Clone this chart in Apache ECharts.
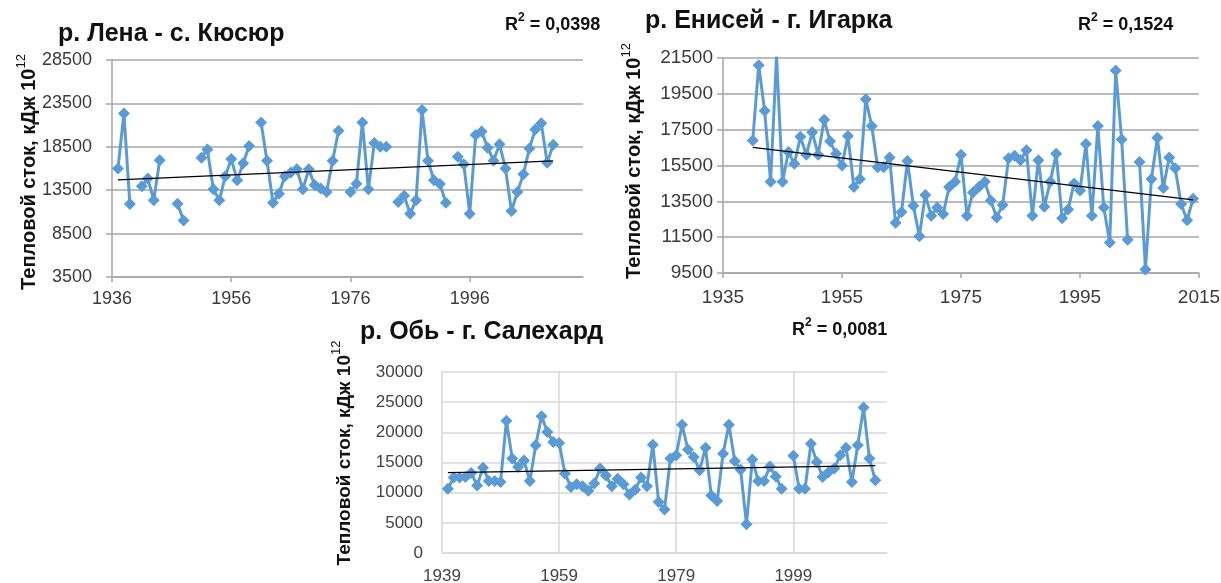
<!DOCTYPE html>
<html><head><meta charset="utf-8">
<script src="https://cdn.jsdelivr.net/npm/echarts@6/dist/echarts.min.js"></script>
<style>html,body{margin:0;padding:0;background:#fff}#c{width:1221px;height:583px}</style>
</head><body><div id="c"></div>
<script>
// ---- Data ----
const lenaYears = [];
for (let y = 1937; y <= 2010; y++) lenaYears.push(y);
const lenaValues = [16000,22350,11900,null,13950,14850,12350,16950,null,null,11950,10000,null,null,17250,18200,13600,12350,15100,17100,14650,16600,18600,null,21300,16900,12050,13100,15100,15550,15900,13600,15900,14100,13700,13300,16900,20350,null,13300,14250,21300,13600,18950,18500,18500,null,12150,12850,10800,12350,22750,16900,14650,14200,12050,null,17350,16500,10800,19850,20250,18400,16900,18800,16000,11100,13300,15350,18300,20500,21200,16650,18750];
const lenaTrendYears = [1937, 2010];
const lenaTrendValues = [14690, 16880];

const yenYears = [];
for (let y = 1940; y <= 2014; y++) yenYears.push(y);
const yenValues = [16900,21100,18550,14600,21600,14600,16250,15600,17100,16100,17350,16100,18050,16850,16150,15500,17150,14300,14750,19200,17700,15400,15400,15950,12300,12900,15750,13250,11550,13850,12700,13150,12800,14300,14600,16100,12700,14000,14300,14600,13550,12600,13300,15900,16050,15800,16350,12700,15800,13200,14600,16150,12550,13050,14500,14100,16700,12700,17700,13150,11200,20800,16950,11350,null,15700,9700,14750,17050,14250,15950,15350,13350,12450,13650];
const yenTrendYears = [1940, 2014];
const yenTrendValues = [16510, 13580];

const obYears = [];
for (let y = 1940; y <= 2013; y++) obYears.push(y);
const obValues = [10650,12500,12500,12600,13250,11200,14150,11950,11950,11750,21900,15650,14250,15350,11950,17850,22650,20050,18400,18250,13150,10950,11400,11050,10300,11500,14000,12850,11050,12300,11400,9700,10500,12500,11050,17950,8450,7200,15650,16200,21250,17150,15900,13700,17450,9550,8600,16450,21250,15250,13800,4750,15500,11950,11950,14350,12700,10650,null,16100,10650,10650,18100,15100,12600,13400,14000,16200,17450,11750,17850,24100,15650,12050];
const obTrendYears = [1940, 2013];
const obTrendValues = [13315, 14476];

const titles = ['р. Лена - с. Кюсюр', 'р. Енисей - г. Игарка', 'р. Обь - г. Салехард'];
const r2Labels = ['0,0398', '0,1524', '0,0081'];
const yAxisTitle = 'Тепловой сток, кДж 10';

// ---- Helpers ----
function pairs(xs, ys) { return xs.map((x, i) => [x, ys[i] == null ? '-' : ys[i]]); }

const BLUE = '#5B9BD5';
function dataSeries(idx, xs, ys) {
  return {
    type: 'line', xAxisIndex: idx, yAxisIndex: idx, data: pairs(xs, ys),
    connectNulls: false, symbol: 'diamond', symbolSize: 12, showSymbol: true,
    lineStyle: { color: BLUE, width: 3 }, itemStyle: { color: BLUE },
    animation: false, z: 3
  };
}
function trendSeries(idx, xs, ys) {
  return {
    type: 'line', xAxisIndex: idx, yAxisIndex: idx, data: pairs(xs, ys),
    symbol: 'none', lineStyle: { color: '#000', width: 1.2 }, animation: false, z: 4
  };
}
const topAxisColor = '#a6a6a6';
function topX(idx, min, max, showMax, fs, margin) {
  return {
    type: 'value', gridIndex: idx, min: min, max: max, interval: 20,
    axisLine: { show: true, lineStyle: { color: topAxisColor, width: 1.5 } },
    axisTick: { show: true, length: 5, lineStyle: { color: topAxisColor, width: 1.5 } },
    splitLine: { show: false },
    axisLabel: { color: '#3b3b3b', fontSize: fs, fontFamily: 'Liberation Sans', margin: margin, showMaxLabel: showMax, formatter: v => String(v) }
  };
}
function topY(idx, min, max, interval, fs, margin) {
  return {
    type: 'value', gridIndex: idx, min: min, max: max, interval: interval,
    axisLine: { show: true, lineStyle: { color: topAxisColor, width: 1.5 } },
    axisTick: { show: true, length: 6, lineStyle: { color: topAxisColor, width: 1.5 } },
    splitLine: { show: true, lineStyle: { color: topAxisColor, width: 1.5 } },
    axisLabel: { color: '#3b3b3b', fontSize: fs, fontFamily: 'Liberation Sans', margin: margin, formatter: v => String(v) }
  };
}

function textEl(x, y, txt, size, align) {
  return { type: 'text', x: x, y: y, z: 10, style: { text: txt, fill: '#111', font: 'bold ' + size + 'px "Liberation Sans"', align: align || 'left', verticalAlign: 'middle' } };
}
function r2El(x, y, val) {
  return { type: 'text', x: x, y: y, z: 10, style: {
    text: '{a|R}{s|2}{a| = ' + val + '}', align: 'left', verticalAlign: 'middle',
    rich: { a: { fontSize: 18, fontWeight: 'bold', fontFamily: 'Liberation Sans', fill: '#111', color: '#111', lineHeight: 22, verticalAlign: 'bottom' },
            s: { fontSize: 12, fontWeight: 'bold', fontFamily: 'Liberation Sans', fill: '#111', color: '#111', lineHeight: 22, verticalAlign: 'top' } } } };
}
function yTitleEl(x, y, size) {
  return { type: 'text', x: x, y: y, rotation: Math.PI / 2, z: 10, style: {
    text: '{a|' + yAxisTitle + '}{s|12}', align: 'center', verticalAlign: 'middle',
    rich: { a: { fontSize: size, fontWeight: 'bold', fontFamily: 'Liberation Sans', fill: '#111', color: '#111', lineHeight: 24, verticalAlign: 'bottom' },
            s: { fontSize: 13, fontFamily: 'Liberation Sans', fill: '#111', color: '#111', lineHeight: 24, verticalAlign: 'top' } } } };
}

const obGridColor = '#d9d9d9';
const option = {
  animation: false,
  grid: [
    { left: 112, top: 60, width: 471, height: 217, outerBoundsMode: 'none', containLabel: false },
    { left: 723, top: 58, width: 476, height: 215, outerBoundsMode: 'none', containLabel: false },
    { left: 442, top: 372, width: 445, height: 181, outerBoundsMode: 'none', containLabel: false }
  ],
  xAxis: [
    topX(0, 1936, 2015, false, 18, 13),
    topX(1, 1935, 2015, true, 19, 15),
    { type: 'value', gridIndex: 2, min: 1939, max: 2015, interval: 20,
      axisLine: { show: true, lineStyle: { color: obGridColor, width: 1.5 } },
      axisTick: { show: false },
      splitLine: { show: true, showMaxLine: false, lineStyle: { color: obGridColor, width: 1.5 } },
      axisLabel: { color: '#444', fontSize: 17, fontFamily: 'Liberation Sans', margin: 15, showMaxLabel: false, formatter: v => String(v) } }
  ],
  yAxis: [
    topY(0, 3500, 28500, 5000, 18, 20),
    topY(1, 9500, 21500, 2000, 19, 10),
    { type: 'value', gridIndex: 2, min: 0, max: 30000, interval: 5000,
      axisLine: { show: false }, axisTick: { show: false },
      splitLine: { show: true, lineStyle: { color: obGridColor, width: 1.5 } },
      axisLabel: { color: '#444', fontSize: 17, fontFamily: 'Liberation Sans', margin: 19, formatter: v => String(v) } }
  ],
  series: [
    dataSeries(0, lenaYears, lenaValues), trendSeries(0, lenaTrendYears, lenaTrendValues),
    dataSeries(1, yenYears, yenValues), trendSeries(1, yenTrendYears, yenTrendValues),
    dataSeries(2, obYears, obValues), trendSeries(2, obTrendYears, obTrendValues)
  ],
  graphic: [
    textEl(58, 34, titles[0], 25),
    textEl(645, 21, titles[1], 25),
    textEl(360, 332, titles[2], 25),
    r2El(505, 23, r2Labels[0]),
    r2El(1078, 23, r2Labels[1]),
    r2El(792, 328, r2Labels[2]),
    yTitleEl(27, 172, 20),
    yTitleEl(632, 161, 20),
    yTitleEl(342, 453, 19)
  ]
};
const chart = echarts.init(document.getElementById('c'), null, { renderer: 'canvas' });
chart.setOption(option);
</script>
</body></html>
